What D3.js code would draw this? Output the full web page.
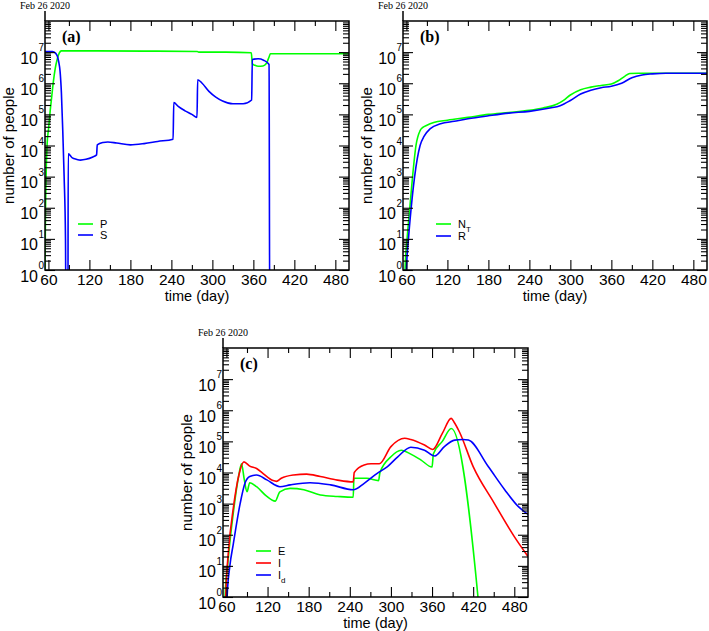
<!DOCTYPE html>
<html><head><meta charset="utf-8">
<script src="https://cdn.jsdelivr.net/npm/d3@7"></script>
<style>
body{margin:0;background:#fff;}
svg{display:block;}
</style></head><body>
<svg id="chart" width="709" height="631"></svg>
<script>
// ---------- shared axis data ----------
const xTickValues = [60,120,180,240,300,360,420,480];
const xMinorValues = [90,150,210,270,330,390,450];
const yDecades = [0,1,2,3,4,5,6,7];
const dateLabel = "Feb 26 2020";
const xTitle = "time (day)";
const yTitle = "number of people";

// ---------- panel (a) ----------
const pDays   = [55,55.8,56.6,58,60.5,62.3,65,67.2,70,73,76,79,90,200,278,280,320,357,358.5,362,367,374,379,383,385,500];
const pValues = [1,1e2,1e3,1e4,4e4,1.1e5,4e5,1.1e6,3e6,6e6,9.5e6,1.1e7,1.1e7,1.08e7,1.05e7,1e7,1e7,9.6e6,4.2e6,3.8e6,3.5e6,3.6e6,4.3e6,7e6,8.9e6,8.9e6];
const sDays   = [55,66,70,73,75,77,79,81,83,85,85.8,88.5,89,95,101,107,115,125,130.5,131.5,140,147,160,180,200,220,242.5,243.5,250,260,270,277.5,278.5,285,295,305,315,330,345,357.5,358.5,367,375,383,384,500];
const sValues = [1.05e7,1.05e7,9.5e6,7.5e6,5e6,2.5e6,5e5,3e4,1e3,10,0,0,5.4e3,4e3,3.6e3,3.4e3,3.6e3,4.3e3,5e3,1.05e4,1.25e4,1.3e4,1.2e4,1.05e4,1.15e4,1.35e4,1.6e4,2.4e5,1.8e5,1.3e5,1e5,8e4,1.3e6,1e6,5.5e5,3.6e5,2.7e5,2.2e5,2.2e5,2.9e5,5.8e6,6.1e6,5.5e6,4e6,0,0];

// ---------- panel (b) ----------
const ntDays   = [57,58,61,65,69,74,80,84,90,100,120,150,180,210,240,260,280,290,300,315,330,345,360,370,380,387,400,500];
const ntValues = [0,1,10,100,1e3,1e4,3e4,3.8e4,4.5e4,5.5e4,6.5e4,8e4,1e5,1.15e5,1.35e5,1.6e5,2.1e5,2.8e5,4.2e5,6.2e5,7.5e5,8.5e5,9.5e5,1.2e6,1.7e6,2.05e6,2.1e6,2.1e6];
const rDays   = [58.5,60,63,67,72,80,86,95,110,130,150,180,210,240,270,285,300,315,330,345,360,375,390,405,420,440,500];
const rValues = [0,1,10,100,1e3,1e4,2e4,3.5e4,5e4,6e4,7.2e4,9e4,1.1e5,1.25e5,1.6e5,1.9e5,2.8e5,4.5e5,6e5,7.2e5,8e5,1e6,1.5e6,1.85e6,2e6,2.1e6,2.1e6];

// ---------- panel (c) ----------
const eDays   = [57,58,62,70,78,82,86,90,94,104,119,131,138,153,173,197,222,245,246,265,282,284,300,315,329,344,360,362,375,388,427,435];
const eValues = [0,1,12,5e2,8e3,1.9e4,6e3,2.4e3,4.7e3,3.5e3,1.7e3,1.2e3,2.4e3,3.1e3,2.8e3,1.9e3,1.7e3,1.6e3,6.5e3,6.5e3,5.5e3,1e4,3.2e4,5.2e4,3.9e4,2.5e4,1.5e4,4e4,1e5,2.6e5,1,0];
const iDays   = [58,59,63,70,78,85.5,94,104,114,128,133,140,158,177,197,222,245,246.5,261,271,283,300,320,329,349,361,375,388,392,400,420,450,480,500];
const iValues = [0,1,30,7e2,8e3,2.2e4,1.6e4,1.35e4,9e3,5.5e3,5.2e3,6.5e3,8.3e3,8.9e3,7.4e3,5.7e3,5e3,1e4,1.75e4,1.9e4,1.9e4,6.8e4,1.26e5,1.15e5,7.6e4,5.5e4,1.8e5,5.5e5,4.2e5,2e5,1.55e4,1.1e3,87,20];
const idDays   = [60,61,65,70,80,87,94,104,119,138,153,182,212,245,261,280,295,310,329,349,364,378,393,405,413,442,466,486,500];
const idValues = [0,1,10,50,1e3,4.5e3,7.4e3,8.3e3,5.8e3,3.5e3,4e3,4.7e3,4e3,2.8e3,4.5e3,9.4e3,1.55e4,3.2e4,6.5e4,5.2e4,3.4e4,6.8e4,1.1e5,1.15e5,1.1e5,1.55e4,2.8e3,8e2,4.5e2];

const GREEN = "#00ff00", BLUE = "#0000ff", RED = "#ff0000";
const zip = (ds, vs) => ds.map((d, i) => ({day: d, v: vs[i]}));

const panels = [
  {id:"a", letter:"(a)", left:45, top:21, w:304, h:249, legendGap:11,
   series:[{name:"P", sub:"", color:GREEN, data:zip(pDays,pValues)},
           {name:"S", sub:"", color:BLUE, data:zip(sDays,sValues)}]},
  {id:"b", letter:"(b)", left:403, top:21, w:304, h:249, legendGap:12,
   series:[{name:"N", sub:"T", color:GREEN, data:zip(ntDays,ntValues)},
           {name:"R", sub:"", color:BLUE, data:zip(rDays,rValues)}]},
  {id:"c", letter:"(c)", left:223, top:348, w:305, h:249, legendGap:12,
   series:[{name:"E", sub:"", color:GREEN, data:zip(eDays,eValues)},
           {name:"I", sub:"", color:RED, data:zip(iDays,iValues)},
           {name:"I", sub:"d", color:BLUE, data:zip(idDays,idValues)}]}
];

const svg = d3.select("#chart");
const SANS = "'Liberation Sans', Arial, Helvetica, sans-serif";
const SERIF = "'Liberation Serif', 'Times New Roman', serif";
const FLOOR = 1e-2;

panels.forEach(p => {
  const g = svg.append("g").attr("transform", `translate(${p.left},${p.top})`);
  const x = d3.scaleLinear().domain([55, 500]).range([0, p.w]);
  const y = d3.scaleLog().domain([1, 1e8]).range([p.h, 0]);

  g.append("clipPath").attr("id", "clip-" + p.id)
    .append("rect").attr("width", p.w).attr("height", p.h);

  const line = d3.line()
    .x(d => x(d.day))
    .y(d => y(Math.max(d.v, FLOOR)))
    .curve(d3.curveMonotoneX);

  const plot = g.append("g").attr("clip-path", `url(#clip-${p.id})`);
  p.series.forEach(s => {
    plot.append("path").datum(s.data)
      .attr("fill", "none").attr("stroke", s.color)
      .attr("stroke-width", 1.6).attr("stroke-linejoin", "round")
      .attr("d", line);
  });

  const majorY = yDecades.map(d => Math.pow(10, d));
  const minorY = [];
  yDecades.forEach(d => { for (let k = 2; k <= 9; k++) minorY.push(k * Math.pow(10, d)); });

  const style = sel => {
    sel.select(".domain").remove();
    sel.selectAll(".tick line").attr("stroke", "#000").attr("stroke-width", 1.1);
  };

  // bottom
  g.append("g").attr("transform", `translate(0,${p.h})`)
    .call(d3.axisBottom(x).tickValues(xTickValues).tickSize(-10).tickPadding(4).tickFormat(d3.format("d")))
    .call(style)
    .call(a => a.selectAll("text").attr("font-family", SANS).attr("font-size", 15.5).attr("fill", "#000"));
  g.append("g").attr("transform", `translate(0,${p.h})`)
    .call(d3.axisBottom(x).tickValues(xMinorValues).tickSize(-5).tickFormat(""))
    .call(style);
  // top
  g.append("g")
    .call(d3.axisTop(x).tickValues(xTickValues).tickSize(-10).tickFormat(""))
    .call(style);
  g.append("g")
    .call(d3.axisTop(x).tickValues(xMinorValues).tickSize(-5).tickFormat(""))
    .call(style);
  // left
  const leftMajor = g.append("g")
    .call(d3.axisLeft(y).tickValues(majorY).tickSize(-10).tickFormat(""))
    .call(style);
  g.append("g")
    .call(d3.axisLeft(y).tickValues(minorY).tickSize(-6).tickFormat(""))
    .call(style);
  // right
  g.append("g").attr("transform", `translate(${p.w},0)`)
    .call(d3.axisRight(y).tickValues(majorY).tickSize(-10).tickFormat(""))
    .call(style);
  g.append("g").attr("transform", `translate(${p.w},0)`)
    .call(d3.axisRight(y).tickValues(minorY).tickSize(-6).tickFormat(""))
    .call(style);

  // y tick labels 10^n : base and exponent as separate texts
  leftMajor.selectAll(".tick").each(function(v) {
    const tk = d3.select(this);
    tk.select("text").remove();
    tk.append("text").attr("x", -7).attr("y", 11)
      .attr("text-anchor", "end").attr("font-family", SANS)
      .attr("font-size", 16).attr("fill", "#000").text("10");
    tk.append("text").attr("x", -6.5).attr("y", -1.5)
      .attr("text-anchor", "start").attr("font-family", SANS)
      .attr("font-size", 10).attr("fill", "#000").text(Math.round(Math.log10(v)));
  });

  // frame
  g.append("rect").attr("width", p.w).attr("height", p.h)
    .attr("fill", "none").attr("stroke", "#000").attr("stroke-width", 1.5);
  g.append("line").attr("x1", 0).attr("x2", 0).attr("y1", -10).attr("y2", 0)
    .attr("stroke", "#000").attr("stroke-width", 1.5);

  // date label
  g.append("text").attr("x", 0).attr("y", -12).attr("text-anchor", "middle")
    .attr("font-family", SERIF).attr("font-size", 10).text(dateLabel);

  // panel letter
  g.append("text").attr("x", 17).attr("y", 21)
    .attr("font-family", SERIF).attr("font-weight", "bold").attr("font-size", 16).text(p.letter);

  // axis titles
  g.append("text").attr("x", p.w / 2).attr("y", p.h + 30.5).attr("text-anchor", "middle")
    .attr("font-family", SANS).attr("font-size", 14.5).text(xTitle);
  g.append("text").attr("transform", `translate(-31,${p.h / 2}) rotate(-90)`)
    .attr("text-anchor", "middle").attr("font-family", SANS).attr("font-size", 15).text(yTitle);

  // legend
  p.series.forEach((s, i) => {
    const ly = 203 + i * p.legendGap;
    g.append("line").attr("x1", 33).attr("x2", 48).attr("y1", ly).attr("y2", ly)
      .attr("stroke", s.color).attr("stroke-width", 1.6);
    const t = g.append("text").attr("x", 55).attr("y", ly + 4)
      .attr("font-family", SANS).attr("font-size", 11).text(s.name);
    if (s.sub) t.append("tspan").attr("font-size", 8).attr("dy", 4).text(s.sub);
  });
});
</script>
</body></html>
